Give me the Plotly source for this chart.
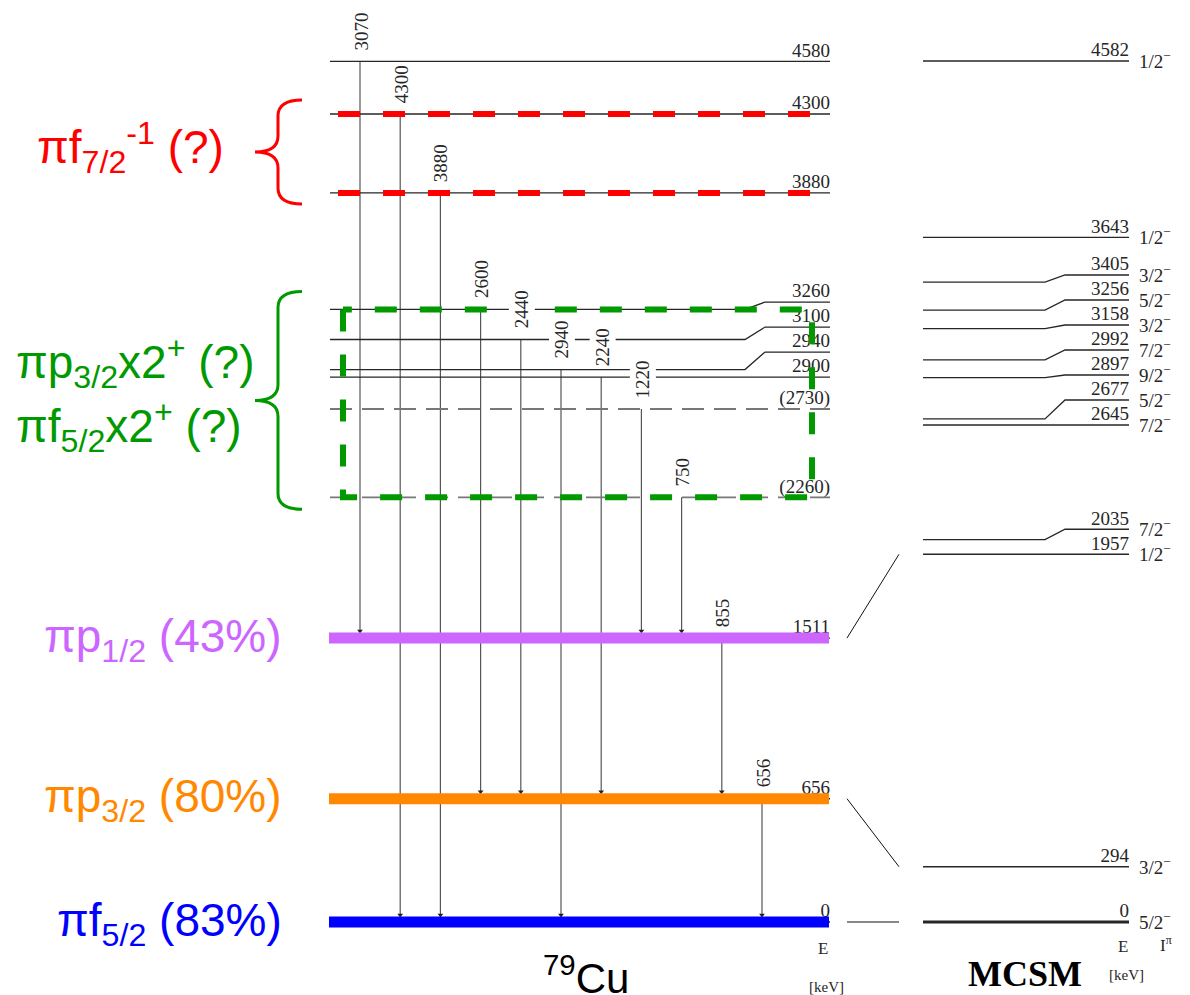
import plotly.graph_objects as go

# ---------------- data ----------------
# 79Cu experimental levels (keV)
exp_energy = [0, 656, 1511, 2260, 2730, 2900, 2940, 3100, 3260, 3880, 4300, 4580]
exp_label = ["0", "656", "1511", "(2260)", "(2730)", "2900", "2940", "3100", "3260",
             "3880", "4300", "4580"]
exp_tentative = [False, False, False, True, True, False, False, False, False,
                 False, False, False]

# gamma transitions: energy label, initial level, final level
gamma_label = ["3070", "4300", "3880", "2600", "2440", "2940", "2240", "1220", "750", "855", "656"]
gamma_from = [4580, 4300, 3880, 3260, 3100, 2940, 2900, 2730, 2260, 1511, 656]
gamma_to = [1511, 0, 0, 656, 656, 0, 656, 1511, 1511, 656, 0]

# shell-model (MCSM) levels
mcsm_energy = [0, 294, 1957, 2035, 2645, 2677, 2897, 2992, 3158, 3256, 3405, 3643, 4582]
mcsm_spin = ["5/2", "3/2", "1/2", "7/2", "7/2", "5/2", "9/2", "7/2", "3/2", "5/2", "3/2",
             "1/2", "1/2"]

# single-particle character of the lowest states
sp_energy = [1511, 656, 0]
sp_text = ["πp<sub>1/2</sub> (43%)", "πp<sub>3/2</sub> (80%)", "πf<sub>5/2</sub> (83%)"]
sp_color = ["#CC66FF", "#FF8800", "#0000FF"]

# experiment <-> MCSM correspondences
link_exp = [1511, 656, 0]
link_mcsm = [1957, 294, 0]

# candidate multiplets
hole_levels = [3880, 4300]
hole_text = "πf<sub>7/2</sub><sup>-1</sup> (?)"
core_box = [2260, 3260]
core_text = ["πp<sub>3/2</sub>x2<sup>+</sup> (?)", "πf<sub>5/2</sub>x2<sup>+</sup> (?)"]

RED = "#FF0000"
GREEN = "#009900"

# ---------------- geometry ----------------
W, H = 1190, 995
E_MIN, E_MAX = -388.5, 4906.7
PX = H / (E_MAX - E_MIN)          # pixels per keV


def kev(px):
    return px / PX


EXP_X = [330, 745, 765, 830]      # start, kink start, kink end, end
TH_X = [923, 1045, 1065, 1129]
GAMMA_X0, GAMMA_DX = 360, 40.2
LABEL_GAP = kev(25)
SERIF = "Liberation Serif, Times New Roman, serif"
SANS = "Liberation Sans, Arial, sans-serif"
INK = "#262626"


def label_heights(energies):
    out, prev = [], None
    for e in energies:
        y = e if prev is None or e >= prev + LABEL_GAP else prev + LABEL_GAP
        out.append(y)
        prev = y
    return out


fig = go.Figure()

# gamma transitions
for i, (lab, ei, ef) in enumerate(zip(gamma_label, gamma_from, gamma_to)):
    x = GAMMA_X0 + i * GAMMA_DX
    tip = ef + kev(7)
    fig.add_trace(go.Scatter(x=[x, x], y=[ei, tip], mode="lines",
                             line=dict(color="#555555", width=1.2), hoverinfo="skip"))
    fig.add_trace(go.Scatter(x=[x], y=[tip], mode="markers",
                             marker=dict(symbol="triangle-down", size=5, color="#222222"),
                             hoverinfo="skip"))


def draw_levels(energies, texts, xs, tentative, width_of):
    ylab = label_heights(energies)
    for e, yl, t, dashed in zip(energies, ylab, texts, tentative):
        if abs(yl - e) < 1e-6:
            px_, py_ = [xs[0], xs[3]], [e, e]
        else:
            px_, py_ = [xs[0], xs[1], xs[2], xs[3]], [e, e, yl, yl]
        fig.add_trace(go.Scatter(
            x=px_, y=py_, mode="lines", hoverinfo="skip",
            line=dict(color="#777777" if dashed else INK, width=width_of(e, dashed),
                      dash="22px,10px" if dashed else "solid")))
        fig.add_trace(go.Scatter(
            x=[xs[3]], y=[yl], mode="text", text=[t], textposition="top left",
            textfont=dict(family=SERIF, size=19, color=INK), hoverinfo="skip"))
    return ylab


draw_levels(exp_energy, exp_label, EXP_X, exp_tentative,
            lambda e, d: 1.8 if d else 1.3)
th_lab = draw_levels(mcsm_energy, [str(e) for e in mcsm_energy], TH_X,
                     [False] * len(mcsm_energy), lambda e, d: 3.2 if e == 0 else 1.3)

# spin-parity of MCSM states
fig.add_trace(go.Scatter(
    x=[TH_X[3] + 10] * len(mcsm_energy), y=[y - kev(2) for y in th_lab], mode="text",
    text=[s + "<sup>−</sup>" for s in mcsm_spin], textposition="middle right",
    textfont=dict(family=SERIF, size=19, color=INK), hoverinfo="skip"))

# correspondence lines
for a, b in zip(link_exp, link_mcsm):
    fig.add_trace(go.Scatter(x=[847, 899], y=[a, b], mode="lines",
                             line=dict(color="#111111", width=1), hoverinfo="skip"))

# proposed f7/2 hole states
for e in hole_levels:
    fig.add_trace(go.Scatter(x=[338, 812], y=[e, e], mode="lines", hoverinfo="skip",
                             line=dict(color=RED, width=6, dash="22px,23px")))

# proposed core-coupled states
lo, hi = core_box
fig.add_trace(go.Scatter(x=[343, 343, 812, 812, 343], y=[hi, lo, lo, hi, hi],
                         mode="lines", hoverinfo="skip",
                         line=dict(color=GREEN, width=6, dash="22px,23px")))

# single-particle levels
for e, c in zip(sp_energy, sp_color):
    fig.add_trace(go.Scatter(x=[329, 829], y=[e, e], mode="lines", hoverinfo="skip",
                             line=dict(color=c, width=11)))

annotations = []
# gamma energy labels
for i, (lab, ei) in enumerate(zip(gamma_label, gamma_from)):
    x = GAMMA_X0 + i * GAMMA_DX
    annotations.append(dict(x=x + 1, y=ei, xref="x", yref="y", text=lab, showarrow=False,
                            textangle=-90, xanchor="center", yanchor="bottom", yshift=8,
                            bgcolor="white", borderpad=2,
                            font=dict(family=SERIF, size=19, color=INK)))

# single-particle labels
for e, t, c in zip(sp_energy, sp_text, sp_color):
    annotations.append(dict(x=284, y=e, xref="x", yref="y", text=t, showarrow=False,
                            xanchor="right", yanchor="middle", yshift=-1,
                            font=dict(family=SANS, size=46, color=c)))


def brace(e_top, e_bot, color):
    x_end, x_mid, x_tip = 302, 278, 255
    r = kev(16)
    em = (e_top + e_bot) / 2
    path = (f"M {x_end},{e_top} Q {x_mid},{e_top} {x_mid},{e_top - r} "
            f"L {x_mid},{em + r} Q {x_mid},{em} {x_tip},{em} "
            f"Q {x_mid},{em} {x_mid},{em - r} L {x_mid},{e_bot + r} "
            f"Q {x_mid},{e_bot} {x_end},{e_bot}")
    return dict(type="path", path=path, xref="x", yref="y",
                line=dict(color=color, width=3))


hole_top, hole_bot = max(hole_levels) + kev(14), min(hole_levels) - kev(11)
core_top, core_bot = core_box[1] + kev(18), core_box[0] - kev(12)
shapes = [brace(hole_top, hole_bot, RED), brace(core_top, core_bot, GREEN)]

annotations.append(dict(x=226, y=(hole_top + hole_bot) / 2, xref="x", yref="y",
                        text=hole_text, showarrow=False, xanchor="right",
                        yanchor="middle", yshift=4,
                        font=dict(family=SANS, size=46, color=RED)))
for t, dy in zip(core_text, [-38, 26]):
    annotations.append(dict(x=14, y=(core_top + core_bot) / 2, xref="x", yref="y", text=t,
                            showarrow=False, xanchor="left", yanchor="middle",
                            yshift=-dy, font=dict(family=SANS, size=46, color=GREEN)))

# column captions
annotations += [
    dict(x=586, y=0, xref="x", yref="paper", text="<sup>79</sup>Cu", showarrow=False,
         xanchor="center", yanchor="bottom", yshift=-9,
         font=dict(family=SANS, size=42, color="black")),
    dict(x=823, y=0, xref="x", yref="y", text="E", showarrow=False, yshift=-26,
         xanchor="center", yanchor="middle", font=dict(family=SERIF, size=17, color=INK)),
    dict(x=826, y=0, xref="x", yref="y", text="[keV]", showarrow=False, yshift=-65,
         xanchor="center", yanchor="middle", font=dict(family=SERIF, size=15, color=INK)),
    dict(x=1123, y=0, xref="x", yref="y", text="E", showarrow=False, yshift=-24,
         xanchor="center", yanchor="middle", font=dict(family=SERIF, size=17, color=INK)),
    dict(x=1166, y=0, xref="x", yref="y", text="I<sup>π</sup>", showarrow=False,
         yshift=-22, xanchor="center", yanchor="middle",
         font=dict(family=SERIF, size=17, color=INK)),
    dict(x=1126, y=0, xref="x", yref="y", text="[keV]", showarrow=False, yshift=-53,
         xanchor="center", yanchor="middle", font=dict(family=SERIF, size=15, color=INK)),
    dict(x=1025, y=0, xref="x", yref="y", text="<b>MCSM</b>", showarrow=False, yshift=-52,
         xanchor="center", yanchor="middle", font=dict(family=SERIF, size=36, color="black")),
]

fig.update_layout(
    width=W, height=H, margin=dict(l=0, r=0, t=0, b=0),
    paper_bgcolor="white", plot_bgcolor="white", showlegend=False,
    xaxis=dict(range=[0, W], visible=False, fixedrange=True),
    yaxis=dict(range=[E_MIN, E_MAX], visible=False, fixedrange=True),
    annotations=annotations, shapes=shapes,
)

fig.write_html("out.html")
